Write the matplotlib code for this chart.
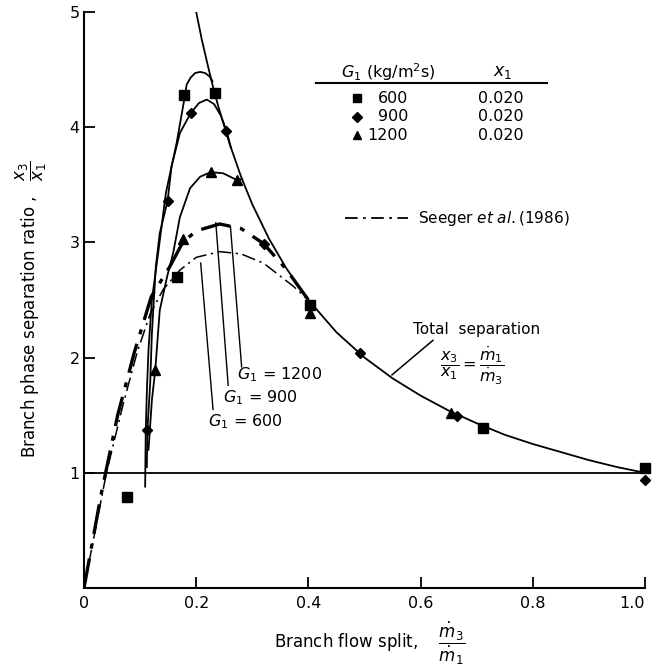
import matplotlib
matplotlib.use("Agg")
import matplotlib.pyplot as plt

plt.rcParams['font.family'] = ['DejaVu Sans']
plt.rcParams['mathtext.fontset'] = 'dejavusans'

sq_x = [0.076, 0.165, 0.178, 0.234, 0.403, 0.711, 1.0]
sq_y = [0.79, 2.70, 4.28, 4.30, 2.46, 1.39, 1.04]
di_x = [0.113, 0.149, 0.190, 0.254, 0.320, 0.492, 0.664, 1.0]
di_y = [1.37, 3.36, 4.12, 3.97, 2.99, 2.04, 1.49, 0.94]
tr_x = [0.127, 0.176, 0.226, 0.273, 0.403, 0.654]
tr_y = [1.89, 3.03, 3.61, 3.54, 2.39, 1.52]

# total separation line x3/x1 = m1/m3
tot_x = [0.2, 0.21, 0.22, 0.23, 0.24, 0.26, 0.28, 0.30, 0.33, 0.36, 0.40, 0.45,
         0.50, 0.55, 0.60, 0.65, 0.70, 0.75, 0.80, 0.85, 0.90, 0.95, 1.00]
tot_y = [5.0, 4.76, 4.55, 4.35, 4.17, 3.85, 3.57, 3.33, 3.03, 2.78, 2.5, 2.22,
         2.0, 1.82, 1.67, 1.54, 1.43, 1.33, 1.25, 1.18, 1.11, 1.05, 1.0]

# experimental fitted curves
c600_x = [0.109, 0.110, 0.112, 0.115, 0.121, 0.132, 0.146, 0.165, 0.178, 0.183,
          0.190, 0.198, 0.207, 0.216, 0.224, 0.229]
c600_y = [0.88, 1.34, 1.70, 2.07, 2.50, 2.90, 3.43, 3.86, 4.22, 4.37,
          4.43, 4.47, 4.48, 4.47, 4.44, 4.40]
c900_x = [0.112, 0.113, 0.118, 0.121, 0.128, 0.135, 0.149, 0.156, 0.171, 0.190,
          0.205, 0.219, 0.232, 0.244, 0.254, 0.262]
c900_y = [1.05, 1.37, 1.78, 2.21, 2.79, 3.08, 3.36, 3.66, 3.95, 4.12,
          4.21, 4.24, 4.20, 4.10, 3.97, 3.82]
c1200_x = [0.115, 0.121, 0.127, 0.135, 0.148, 0.159, 0.171, 0.189, 0.207, 0.226,
           0.248, 0.273, 0.282]
c1200_y = [1.20, 1.63, 1.89, 2.41, 2.70, 2.91, 3.22, 3.47, 3.57, 3.61,
           3.60, 3.54, 3.55]

# Seeger et al. (1986) predictions
s600_x = [0.0, 0.04, 0.07, 0.095, 0.118, 0.141, 0.171, 0.20, 0.242, 0.28, 0.32, 0.373, 0.40]
s600_y = [0.0, 1.00, 1.60, 2.05, 2.38, 2.59, 2.76, 2.87, 2.92, 2.90, 2.82, 2.62, 2.50]
s900_x = [0.0, 0.03, 0.06, 0.09, 0.12, 0.153, 0.176, 0.20, 0.242, 0.28, 0.32, 0.36, 0.40]
s900_y = [0.0, 0.80, 1.50, 2.05, 2.53, 2.79, 3.00, 3.10, 3.16, 3.12, 2.99, 2.77, 2.50]

x_ticks = [0, 0.2, 0.4, 0.6, 0.8, 1.0]
x_ticklabels = ["0", "0.2", "0.4", "0.6", "0.8", "1.0"]
y_ticks = [1, 2, 3, 4, 5]
y_ticklabels = ["1", "2", "3", "4", "5"]

legend_G = ["600", "900", "1200"]
legend_x1 = ["0.020", "0.020", "0.020"]

# ---- figure ----
fig = plt.figure(figsize=(6.56, 6.70), dpi=100)
ax = fig.add_axes([84/656, 1-588/670, (645-84)/656, (588-12)/670])
ax.set_xlim(0, 1.0)
ax.set_ylim(0, 5)

K = 'black'
lw = 1.3
dashdot = (0, (9, 3, 1.5, 3))

ax.plot([0, 1.0], [1, 1], color=K, lw=lw)
ax.plot(tot_x, tot_y, color=K, lw=lw)
ax.plot(c600_x, c600_y, color=K, lw=lw)
ax.plot(c900_x, c900_y, color=K, lw=lw)
ax.plot(c1200_x, c1200_y, color=K, lw=lw)
ax.plot(s600_x, s600_y, color=K, lw=1.1, linestyle=dashdot)
ax.plot(s900_x, s900_y, color=K, lw=2.4, linestyle=dashdot)

ms = 6.5
ax.plot(sq_x, sq_y, 's', color=K, ms=ms, clip_on=False)
ax.plot(di_x, di_y, 'D', color=K, ms=5.5, clip_on=False)
ax.plot(tr_x, tr_y, '^', color=K, ms=6.5, clip_on=False)

# legend table
fs = 11.5
ax.text(0.542, 4.48, r"$G_1$ (kg/m$^2$s)", ha='center', va='center', fontsize=fs)
ax.text(0.747, 4.48, r"$x_1$", ha='center', va='center', fontsize=fs + 1)
ax.plot([0.414, 0.825], [4.38, 4.38], color=K, lw=1.5)
row_y = [4.25, 4.09, 3.93]
row_m = ['s', 'D', '^']
row_ms = [6, 5, 6]
for yy, lab, x1, m, s in zip(row_y, legend_G, legend_x1, row_m, row_ms):
    ax.plot([0.487], [yy], m, color=K, ms=s)
    ax.text(0.578, yy, lab, ha='right', va='center', fontsize=fs)
    ax.text(0.743, yy, x1, ha='center', va='center', fontsize=fs)

# Seeger legend
ax.plot([0.465, 0.578], [3.21, 3.21], color=K, lw=1.3, linestyle=(0, (7, 3, 1.5, 3)))
ax.text(0.595, 3.21, r"Seeger $\mathit{et\ al.}$(1986)", ha='left', va='center', fontsize=fs - 0.5)

# Total separation annotation
ax.text(0.70, 2.24, "Total  separation", ha='center', va='center', fontsize=fs - 0.5)
ax.text(0.692, 1.93, r"$\dfrac{x_3}{x_1} = \dfrac{\dot m_1}{\dot m_3}$", ha='center', va='center', fontsize=fs)
ax.plot([0.549, 0.622], [1.85, 2.15], color=K, lw=1.1)

# G1 labels with leaders
ax.text(0.273, 1.85, r"$G_1$ = 1200", ha='left', va='center', fontsize=fs)
ax.text(0.248, 1.65, r"$G_1$ = 900", ha='left', va='center', fontsize=fs)
ax.text(0.221, 1.44, r"$G_1$ = 600", ha='left', va='center', fontsize=fs)
ax.plot([0.281, 0.261], [1.92, 3.14], color=K, lw=1.0)
ax.plot([0.257, 0.235], [1.76, 3.17], color=K, lw=1.0)
ax.plot([0.230, 0.208], [1.55, 2.82], color=K, lw=1.0)

# axes styling
for side in ['top', 'right']:
    ax.spines[side].set_visible(False)
for side in ['left', 'bottom']:
    ax.spines[side].set_linewidth(1.5)
ax.set_xticks(x_ticks)
ax.set_xticklabels(x_ticklabels)
ax.set_yticks(y_ticks)
ax.set_yticklabels(y_ticklabels)
ax.tick_params(direction='in', length=8, width=1.3, labelsize=fs, colors=K)
ax.tick_params(axis='y', pad=3)
ax.tick_params(axis='x', pad=6)
ax.get_xticklabels()[-1].set_horizontalalignment('right')
ax.get_xticklabels()[-1].set_x(1.0)

fig.text(31/656, 1-309/670, r"Branch phase separation ratio ,   $\dfrac{x_3}{x_1}$",
         rotation=90, ha='center', va='center', fontsize=fs + 0.5)
fig.text(370/656, 1-643/670, r"Branch flow split,    $\dfrac{\dot m_3}{\dot m_1}$",
         ha='center', va='center', fontsize=fs + 0.5)

fig.savefig("out.png", dpi=100)
